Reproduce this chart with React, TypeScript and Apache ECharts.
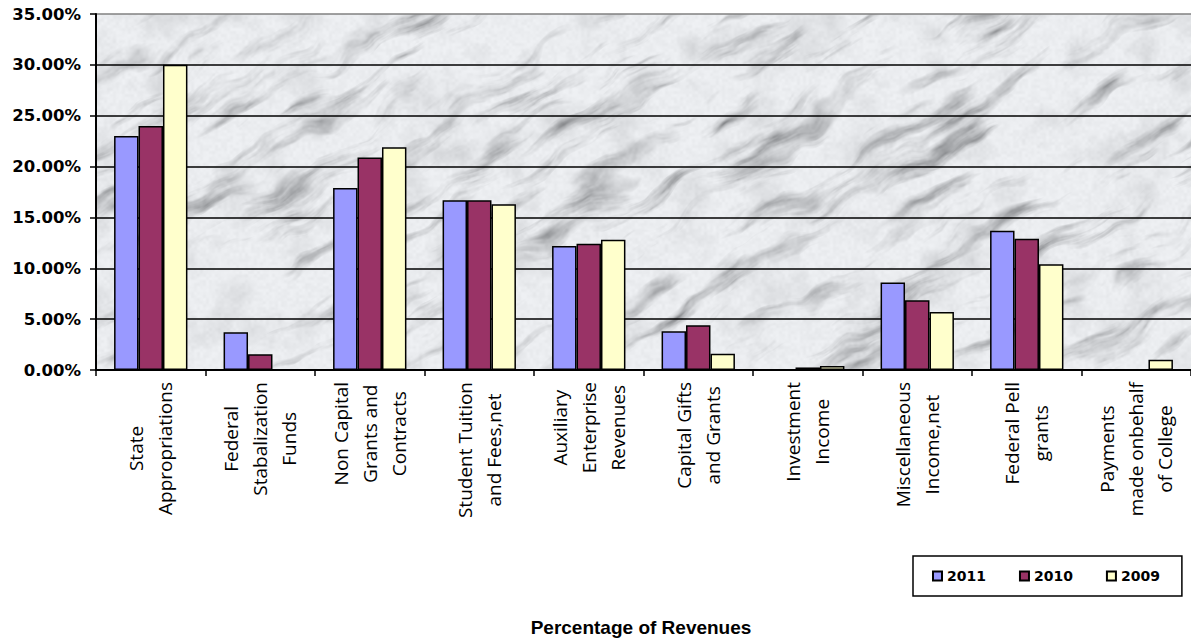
import React, { useEffect, useRef } from "react";
import * as echarts from "echarts";

const categories = [
  "State\nAppropriations",
  "Federal\nStabalization\nFunds",
  "Non Capital\nGrants and\nContracts",
  "Student Tuition\nand Fees,net",
  "Auxiliary\nEnterprise\nRevenues",
  "Capital Gifts\nand Grants",
  "Investment\nIncome",
  "Miscellaneous\nIncome,net",
  "Federal Pell\ngrants",
  "Payments\nmade onbehalf\nof College",
];

const seriesNames = ["2011", "2010", "2009"];
const values2011 = [23.0, 3.7, 17.9, 16.7, 12.2, 3.8, null, 8.6, 13.7, null];
const values2010 = [24.0, 1.55, 20.9, 16.7, 12.4, 4.4, 0.25, 6.85, 12.9, null];
const values2009 = [30.0, null, 21.9, 16.3, 12.8, 1.6, 0.4, 5.7, 10.4, 1.0];
const seriesColors = ["#9999FF", "#993366", "#FFFFCC"];

const yMin = 0;
const yMax = 35;
const yInterval = 5;
const chartTitle = "Percentage of Revenues";

// deterministic hash-based value noise for the marble backdrop texture
function hash(i: number, j: number): number {
  let h = Math.imul(i, 374761393) + Math.imul(j, 668265263);
  h = Math.imul(h ^ (h >>> 13), 1274126177);
  h = h ^ (h >>> 16);
  return (h & 0xffff) / 0xffff;
}
function vnoise(x: number, y: number): number {
  const xi = Math.floor(x);
  const yi = Math.floor(y);
  const xf = x - xi;
  const yf = y - yi;
  const u = xf * xf * (3 - 2 * xf);
  const v = yf * yf * (3 - 2 * yf);
  const a = hash(xi, yi);
  const b = hash(xi + 1, yi);
  const c = hash(xi, yi + 1);
  const d = hash(xi + 1, yi + 1);
  return a + (b - a) * u + (c - a) * v + (a - b - c + d) * u * v;
}
function fbm(x: number, y: number, oct: number): number {
  let s = 0;
  let amp = 0.5;
  let f = 1;
  let tot = 0;
  for (let k = 0; k < oct; k++) {
    s += amp * vnoise(x * f, y * f);
    tot += amp;
    f *= 2;
    amp *= 0.5;
  }
  return s / tot;
}
function marbleTexture(w: number, h: number): string {
  const cv = document.createElement("canvas");
  cv.width = w;
  cv.height = h;
  const ctx = cv.getContext("2d");
  if (!ctx) return "";
  const img = ctx.createImageData(w, h);
  for (let y = 0; y < h; y++) {
    for (let x = 0; x < w; x++) {
      // coordinates rotated so streaks run from lower-left to upper-right
      const u = 0.866 * x - 0.5 * y;
      const v = 0.5 * x + 0.866 * y;
      const warp = fbm(x / 60 + 3, y / 60 + 9, 3) * 30;
      const streak = fbm(u / 70, (v + warp) / 14, 4);
      const blot = fbm(x / 35 + 21, y / 35 + 13, 4);
      let dark = Math.max(0, streak - 0.52) * 2.2;
      dark = Math.pow(dark, 1.3);
      let g = 238 - dark * 95 - Math.max(0, blot - 0.5) * 50;
      const fine = vnoise(x / 3 + 51, y / 3 + 7);
      g -= (fine - 0.5) * 8;
      g = Math.max(140, Math.min(248, g));
      const idx = (y * w + x) * 4;
      img.data[idx] = g - 3;
      img.data[idx + 1] = g - 1;
      img.data[idx + 2] = g + 2;
      img.data[idx + 3] = 255;
    }
  }
  ctx.putImageData(img, 0, 0);
  return cv.toDataURL("image/png");
}

export default function App() {
  const ref = useRef<HTMLDivElement>(null);

  useEffect(() => {
    if (!ref.current) return;
    const chart = echarts.init(ref.current, undefined, { renderer: "svg" });
    const allValues = [values2011, values2010, values2009];
    const gridLeft = 96;
    const gridTop = 14;
    const gridW = 1100;
    const gridH = 356;
    const texture = marbleTexture(gridW, gridH);
    chart.setOption({
      animation: false,
      backgroundColor: "#ffffff",
      graphic: {
        elements: [
          {
            type: "image",
            left: gridLeft,
            top: gridTop,
            z: -10,
            silent: true,
            style: { image: texture, x: 0, y: 0, width: gridW, height: gridH },
          },
        ],
      },
      title: {
        text: chartTitle,
        left: 636,
        top: 613,
        textAlign: "center",
        textStyle: {
          fontFamily: "'Liberation Sans', Arial, sans-serif",
          fontWeight: "bold",
          fontSize: 19,
          color: "#000",
        },
      },
      legend: {
        data: seriesNames,
        left: 913,
        top: 556,
        orient: "horizontal",
        icon: "rect",
        itemWidth: 9,
        itemHeight: 9,
        itemGap: 33,
        padding: [13, 22, 13, 19],
        borderColor: "#000",
        borderWidth: 1.5,
        backgroundColor: "#ffffff",
        textStyle: {
          fontFamily: "'DejaVu Sans', sans-serif",
          fontWeight: "bold",
          fontSize: 14,
          color: "#000",
        },
      },
      grid: {
        left: gridLeft,
        top: gridTop,
        width: gridW,
        height: gridH,
        show: false,
      },
      xAxis: {
        type: "category",
        data: categories,
        boundaryGap: true,
        axisLine: { lineStyle: { color: "#000", width: 2 } },
        axisTick: { show: true, length: 6, lineStyle: { color: "#000", width: 1.5 } },
        axisLabel: {
          interval: 0,
          rotate: 90,
          margin: 12,
          formatter: (v: string) =>
            v
              .split("\n")
              .map((s) => `{c|${s}}`)
              .join("\n"),
          rich: {
            c: {
              align: "center",
              fontFamily: "'Open Sans', sans-serif",
              fontSize: 19,
              lineHeight: 29,
              color: "#000",
            },
          },
        },
      },
      yAxis: {
        type: "value",
        min: yMin,
        max: yMax,
        interval: yInterval,
        axisLine: { show: true, lineStyle: { color: "#000", width: 2 } },
        axisTick: { show: true, length: 6, lineStyle: { color: "#000", width: 1.5 } },
        axisLabel: {
          margin: 15,
          formatter: (v: number) => v.toFixed(2) + "%",
          fontFamily: "'DejaVu Sans', sans-serif",
          fontWeight: "bold",
          fontSize: 16.5,
          color: "#000",
        },
        splitLine: {
          show: true,
          lineStyle: {
            color: ["#000", "#000", "#000", "#000", "#000", "#000", "#000", "#808080"],
            width: 1.5,
          },
        },
      },
      series: seriesNames.map((name, i) => ({
        name,
        type: "bar",
        data: allValues[i],
        barGap: "0%",
        barCategoryGap: "33%",
        itemStyle: {
          color: seriesColors[i],
          borderColor: "#000",
          borderWidth: 1.5,
        },
      })),
    });
    return () => chart.dispose();
  }, []);

  return (
    <div
      ref={ref}
      style={{ position: "fixed", left: 0, top: 0, width: 1191, height: 641 }}
    />
  );
}
